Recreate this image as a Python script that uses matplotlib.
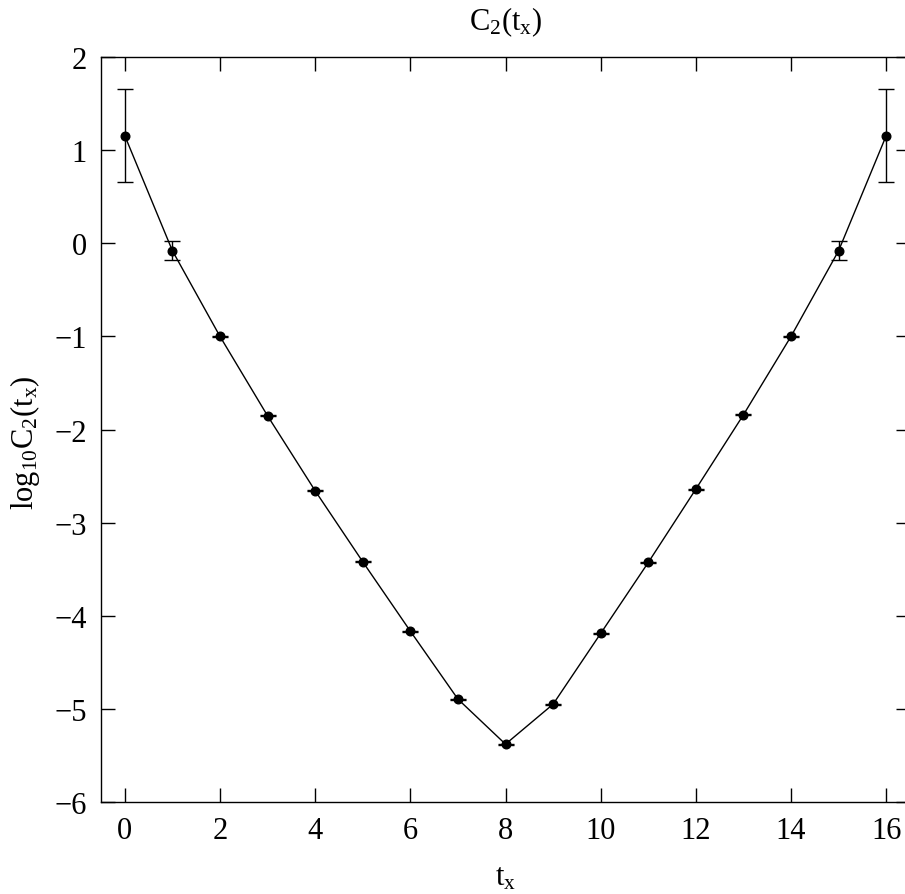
import matplotlib
matplotlib.use("Agg")
import matplotlib.pyplot as plt

plt.rcParams['font.family'] = ['Liberation Serif', 'DejaVu Serif']
plt.rcParams['mathtext.fontset'] = 'custom'
plt.rcParams['mathtext.rm'] = 'Liberation Serif'
plt.rcParams['mathtext.it'] = 'Liberation Serif'
plt.rcParams['mathtext.default'] = 'regular'

# data
tx = [0, 1, 2, 3, 4, 5, 6, 7, 8, 9, 10, 11, 12, 13, 14, 15, 16]
logc2 = [1.155, -0.08, -1.0, -1.853, -2.658, -3.42, -4.165, -4.895, -5.379,
         -4.95, -4.19, -3.428, -2.64, -1.842, -1.0, -0.08, 1.155]
err = [0.5, 0.105, 0.006, 0.005, 0.005, 0.005, 0.005, 0.005, 0.005,
       0.005, 0.005, 0.005, 0.005, 0.005, 0.006, 0.105, 0.5]

fig = plt.figure(figsize=(9.05, 8.95), dpi=100)
# right edge of the frame sits just past the canvas, as in the reference
ax = fig.add_axes([101/905, 92/895, 809/905, 745/895])

ax.errorbar(tx, logc2, yerr=err, fmt='o', color='black', ms=6.2,
            ecolor='black', elinewidth=1, capsize=6, capthick=1, zorder=3)
ax.plot(tx, logc2, color='black', lw=1)

ax.set_xlim(-0.5, 16.5)
ax.set_ylim(-6, 2)
ax.set_xticks(range(0, 17, 2))
ax.set_yticks(range(-6, 3))
ax.tick_params(direction='in', length=10, width=1, top=True, right=True,
               labelsize=22, pad=10)
for s in ax.spines.values():
    s.set_linewidth(1)
ax.spines['right'].set_visible(False)

ax.set_title('C$_2$(t$_x$)', fontsize=22, pad=20)
ax.set_xlabel('t$_x$', fontsize=22, labelpad=13)
ax.set_ylabel('log$_{10}$C$_2$(t$_x$)', fontsize=22)
ax.yaxis.set_label_coords(-0.073, 0.483)

fig.savefig('out.png', dpi=100)
